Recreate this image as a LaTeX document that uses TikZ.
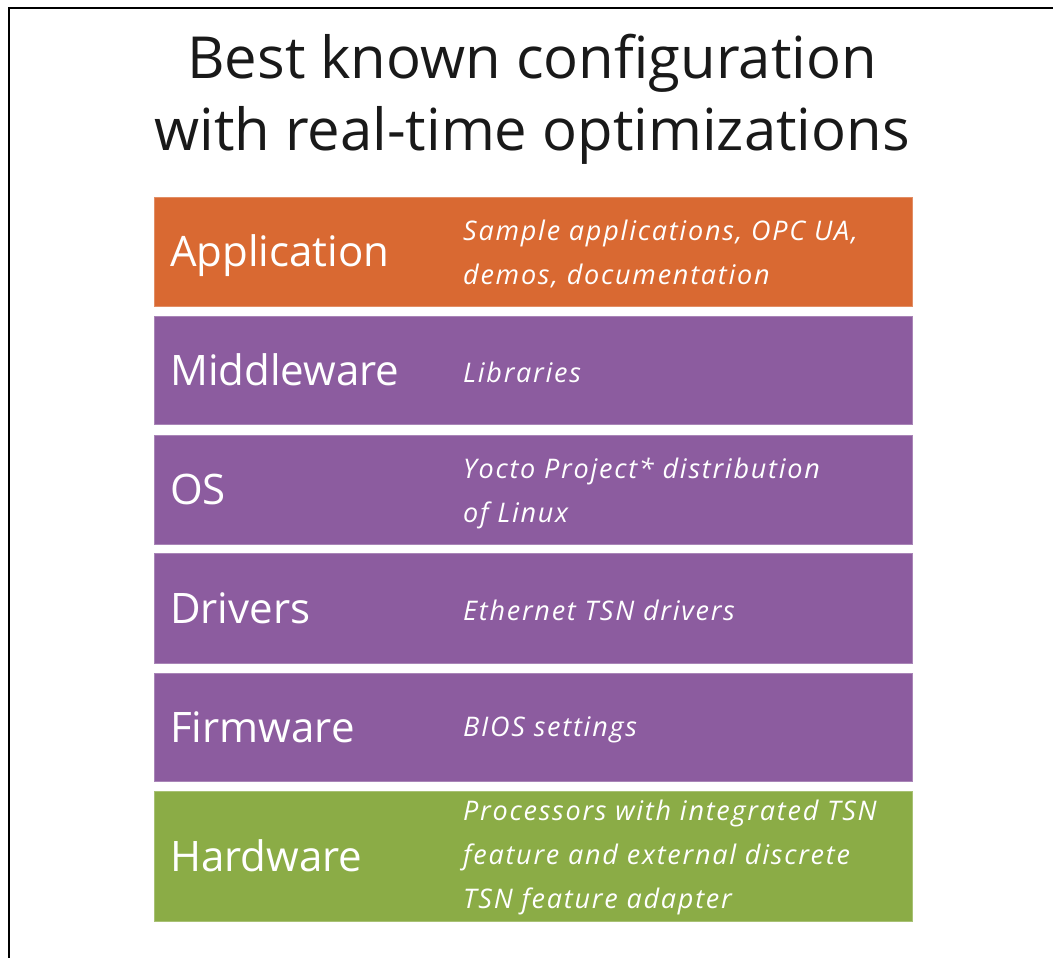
\documentclass[tikz,border=0pt]{standalone}
\usepackage{fontspec}
\setmainfont{Open Sans}
\newfontfamily\descfont[LetterSpace=6.5]{Open Sans}
\definecolor{apporange}{HTML}{D96932}
\definecolor{stackpurple}{HTML}{8C5C9F}
\definecolor{hwgreen}{HTML}{8BAC46}
\begin{document}
\begin{tikzpicture}[x=1pt,y=-1pt,
          layer/.style={draw=#1!75!white,fill=#1,line width=0.8pt,minimum width=758pt,anchor=north west,inner sep=0pt},
          lbl/.style={text=white,font=\fontsize{42}{48}\selectfont,anchor=base west,inner sep=0pt},
          desc/.style={text=white,font=\descfont\fontsize{27}{44}\selectfont\itshape,align=left,anchor=west,inner sep=0pt},
          ttl/.style={text=black!90,font=\fontsize{58}{72}\selectfont,anchor=base,inner sep=0pt}
          ]
          \useasboundingbox (0,0) rectangle (1053,958);
          \draw[line width=2.5pt] (9,958) -- (9,8) -- (1053,8);
          % title
          \node[ttl] (t1) at (532,78)  {Best known configuration};
          \node[ttl] (t2) at (532,150) {with real-time optimizations};
          % stack
          \node[layer=apporange,minimum height=109pt]   (app) at (154,197) {};
          \node[layer=stackpurple,minimum height=108pt] (mid) at (154,316) {};
          \node[layer=stackpurple,minimum height=109pt] (os)  at (154,435) {};
          \node[layer=stackpurple,minimum height=110pt] (drv) at (154,553) {};
          \node[layer=stackpurple,minimum height=108pt] (fw)  at (154,673) {};
          \node[layer=hwgreen,minimum height=130pt]     (hw)  at (154,791) {};
          \foreach \l/\t in {app/Application,mid/Middleware,os/OS,drv/Drivers,fw/Firmware,hw/Hardware}
            \node[lbl] (\l-name) at ([xshift=16pt,yshift=-15pt]\l.west) {\t};
          \node[desc] (app-desc) at ([xshift=309pt,yshift=-2pt]app.west) {Sample applications, OPC UA,\\demos, documentation};
          \node[desc] (mid-desc) at ([xshift=309pt,yshift=-2pt]mid.west) {Libraries};
          \node[desc] (os-desc)  at ([xshift=309pt,yshift=-4pt]os.west)  {Yocto Project* distribution\\of Linux};
          \node[desc] (drv-desc) at ([xshift=309pt,yshift=-2pt]drv.west) {Ethernet TSN drivers};
          \node[desc] (fw-desc)  at ([xshift=309pt,yshift=-2pt]fw.west)  {BIOS settings};
          \node[desc] (hw-desc)  at ([xshift=309pt,yshift=-1pt]hw.west)  {Processors with integrated TSN\\feature and external discrete\\TSN feature adapter};
        \end{tikzpicture}
\end{document}
